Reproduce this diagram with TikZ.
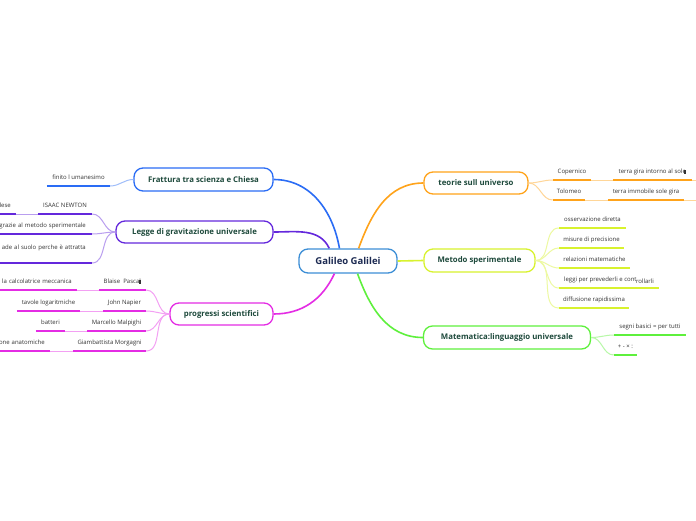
\documentclass[tikz,border=0pt]{standalone}
\usepackage{fontspec}
\setmainfont{Open Sans}
\definecolor{cblue}{HTML}{2A6CF5}
\definecolor{cpurp}{HTML}{6428DC}
\definecolor{cmag}{HTML}{E42CE4}
\definecolor{corg}{HTML}{FFA31A}
\definecolor{cyel}{HTML}{D8F22E}
\definecolor{cgrn}{HTML}{5EF03C}
\definecolor{ccen}{HTML}{3C8ED6}
\definecolor{maintext}{HTML}{1E4A3C}
\definecolor{centext}{HTML}{1C2A52}
\definecolor{leaftext}{HTML}{333333}
\newcommand\leafline[2]{\draw[line width=2pt,#2] (#1.south west) -- (#1.south east);}
\tikzset{
  mainbox/.style={draw=#1, line width=1.3pt, rounded corners=9pt, fill=white,
    font=\fontsize{7.8}{9}\selectfont\bfseries, text=maintext, inner sep=0pt},
  leaf/.style={inner xsep=4pt, inner ysep=0pt, text height=4.5pt, text depth=6pt,
    font=\fontsize{6}{7}\selectfont, text=leaftext, anchor=south},
  cutleaf/.style={leaf, anchor=south east, inner xsep=0pt, text width=150pt, align=right},
  trunk/.style={draw=#1, line width=1.6pt},
  twig/.style={draw=#1!45!white, line width=1pt},
}
\begin{document}
\begin{tikzpicture}[x=1pt,y=-1pt]
\useasboundingbox (0,0) rectangle (696,520);
\fill[white] (0,0) rectangle (696,520);

% main nodes
\node[mainbox=ccen, minimum width=98pt, minimum height=24pt, text=centext,
  font=\fontsize{9.5}{11}\selectfont\bfseries] (gal) at (348,261) {Galileo Galilei};
\node[mainbox=cblue, minimum width=139pt, minimum height=23pt] (fra) at (203.5,179.5) {Frattura tra scienza e Chiesa};
\node[mainbox=cpurp, minimum width=157pt, minimum height=22pt] (leg) at (194.5,232) {Legge di gravitazione universale};
\node[mainbox=cmag, minimum width=103pt, minimum height=22pt] (pro) at (221.5,314) {progressi scientifici};
\node[mainbox=corg, minimum width=104pt, minimum height=22pt] (teo) at (476,183) {teorie sull universo};
\node[mainbox=cyel, minimum width=111pt, minimum height=23pt] (met) at (479.5,260.5) {Metodo sperimentale};
\node[mainbox=cgrn, minimum width=167pt, minimum height=23pt] (mat) at (507,337.5) {Matematica:linguaggio universale};

% trunks
\draw[trunk=cblue] (gal.124) to[out=100,in=0] (fra.east);
\draw[trunk=cpurp] (gal.146) to[out=115,in=0] (leg.east);
\draw[trunk=cmag] (gal.223) to[out=245,in=0] (pro.east);
\draw[trunk=corg] (gal.50) to[out=70,in=180] (teo.west);
\draw[trunk=cyel] (gal.east) -- (met.west);
\draw[trunk=cgrn] (gal.307) to[out=-70,in=180] (mat.west);

% Frattura
\node[leaf, minimum width=63pt] (f1) at (78.5,186) {finito l umanesimo};
\leafline{f1}{cblue}
\draw[twig=cblue] (f1.south east) to[out=0,in=180] (fra.west);

% Legge
\node[leaf, minimum width=54pt] (l1) at (65,214) {ISAAC NEWTON};
\node[cutleaf] (l1a) at (16,214) {lese\hspace*{5pt}};
\node[cutleaf] (l2) at (92,234) {grazie al metodo sperimentale\hspace*{6pt}};
\node[cutleaf, text depth=13pt] (l3) at (92,263) {ade al suolo perche è attratta\hspace*{6pt}};
\foreach \n in {l1,l1a,l2,l3} {\leafline{\n}{cpurp}}
\draw[twig=cpurp] (l1a.south east) -- (l1.south west);
\foreach \n in {l1,l2,l3} {\draw[twig=cpurp] (\n.south east) to[out=0,in=180] (leg.west);}

% progressi
\node[leaf, minimum width=47pt] (p1) at (122.5,290) {Blaise\ \ Pascal\kern-2pt\rule{2.4pt}{3.4pt}};
\node[cutleaf] (p1a) at (77,290) {la calcolatrice meccanica\hspace*{5pt}};
\node[leaf, minimum width=43pt] (p2) at (124.5,311) {John Napier};
\node[leaf, minimum width=63pt] (p2a) at (48.5,311) {tavole logaritmiche};
\node[leaf, minimum width=59pt] (p3) at (116.5,331) {Marcello Malpighi};
\node[leaf, minimum width=29pt] (p3a) at (50.5,331) {batteri};
\node[leaf, minimum width=73pt] (p4) at (109.5,351) {Giambattista Morgagni};
\node[cutleaf] (p4a) at (50,351) {one anatomiche\hspace*{5pt}};
\foreach \n in {p1,p1a,p2,p2a,p3,p3a,p4,p4a} {\leafline{\n}{cmag}}
\draw[twig=cmag] (p1a.south east) -- (p1.south west);
\draw[twig=cmag] (p2a.south east) -- (p2.south west);
\draw[twig=cmag] (p3a.south east) -- (p3.south west);
\draw[twig=cmag] (p4a.south east) -- (p4.south west);
\foreach \n in {p1,p2,p3,p4} {\draw[twig=cmag] (\n.south east) to[out=0,in=180] (pro.west);}

% teorie
\node[leaf, minimum width=38pt] (t1) at (572,180) {Copernico};
\node[leaf, minimum width=79pt] (t1a) at (652.5,180) {terra gira intorno al sole\kern-2pt\rule{2.4pt}{3.4pt}};
\node[leaf, minimum width=32pt] (t2) at (569,200) {Tolomeo};
\node[leaf, minimum width=76pt] (t2a) at (646,200) {terra immobile sole gira};
\coordinate (t1x) at (700,180);
\coordinate (t2x) at (700,200);
\foreach \n in {t1,t1a,t2,t2a} {\leafline{\n}{corg}}
\draw[twig=corg] (t1.south east) -- (t1a.south west);
\draw[twig=corg] (t2.south east) -- (t2a.south west);
\draw[twig=corg] (t1a.south east) -- (t1x);
\draw[twig=corg] (t2a.south east) -- (t2x);
\foreach \n in {t1,t2} {\draw[twig=corg] (teo.east) to[out=0,in=180] (\n.south west);}

% Metodo
\node[leaf, minimum width=67pt] (m1) at (592.5,228) {osservazione diretta};
\node[leaf, minimum width=65pt] (m2) at (591.5,248) {misure di precisione};
\node[leaf, minimum width=71pt] (m3) at (594.5,268) {relazioni matematiche};
\node[leaf, minimum width=100pt] (m4) at (609,288) {leggi per prevederli e cont\kern-0.5pt\raisebox{-1.2pt}{rollarli}};
\node[leaf, minimum width=70pt] (m5) at (594,308) {diffusione rapidissima};
\foreach \n in {m1,m2,m3,m4,m5} {\leafline{\n}{cyel}
  \draw[twig=cyel] (met.east) to[out=0,in=180] (\n.south west);}

% Matematica
\node[leaf, minimum width=72pt] (n1) at (650,335) {segni basici = per tutti};
\node[leaf, minimum width=23pt] (n2) at (625.5,355) {+ - × :};
\foreach \n in {n1,n2} {\leafline{\n}{cgrn}
  \draw[twig=cgrn] (mat.east) to[out=0,in=180] (\n.south west);}
\end{tikzpicture}
\end{document}
